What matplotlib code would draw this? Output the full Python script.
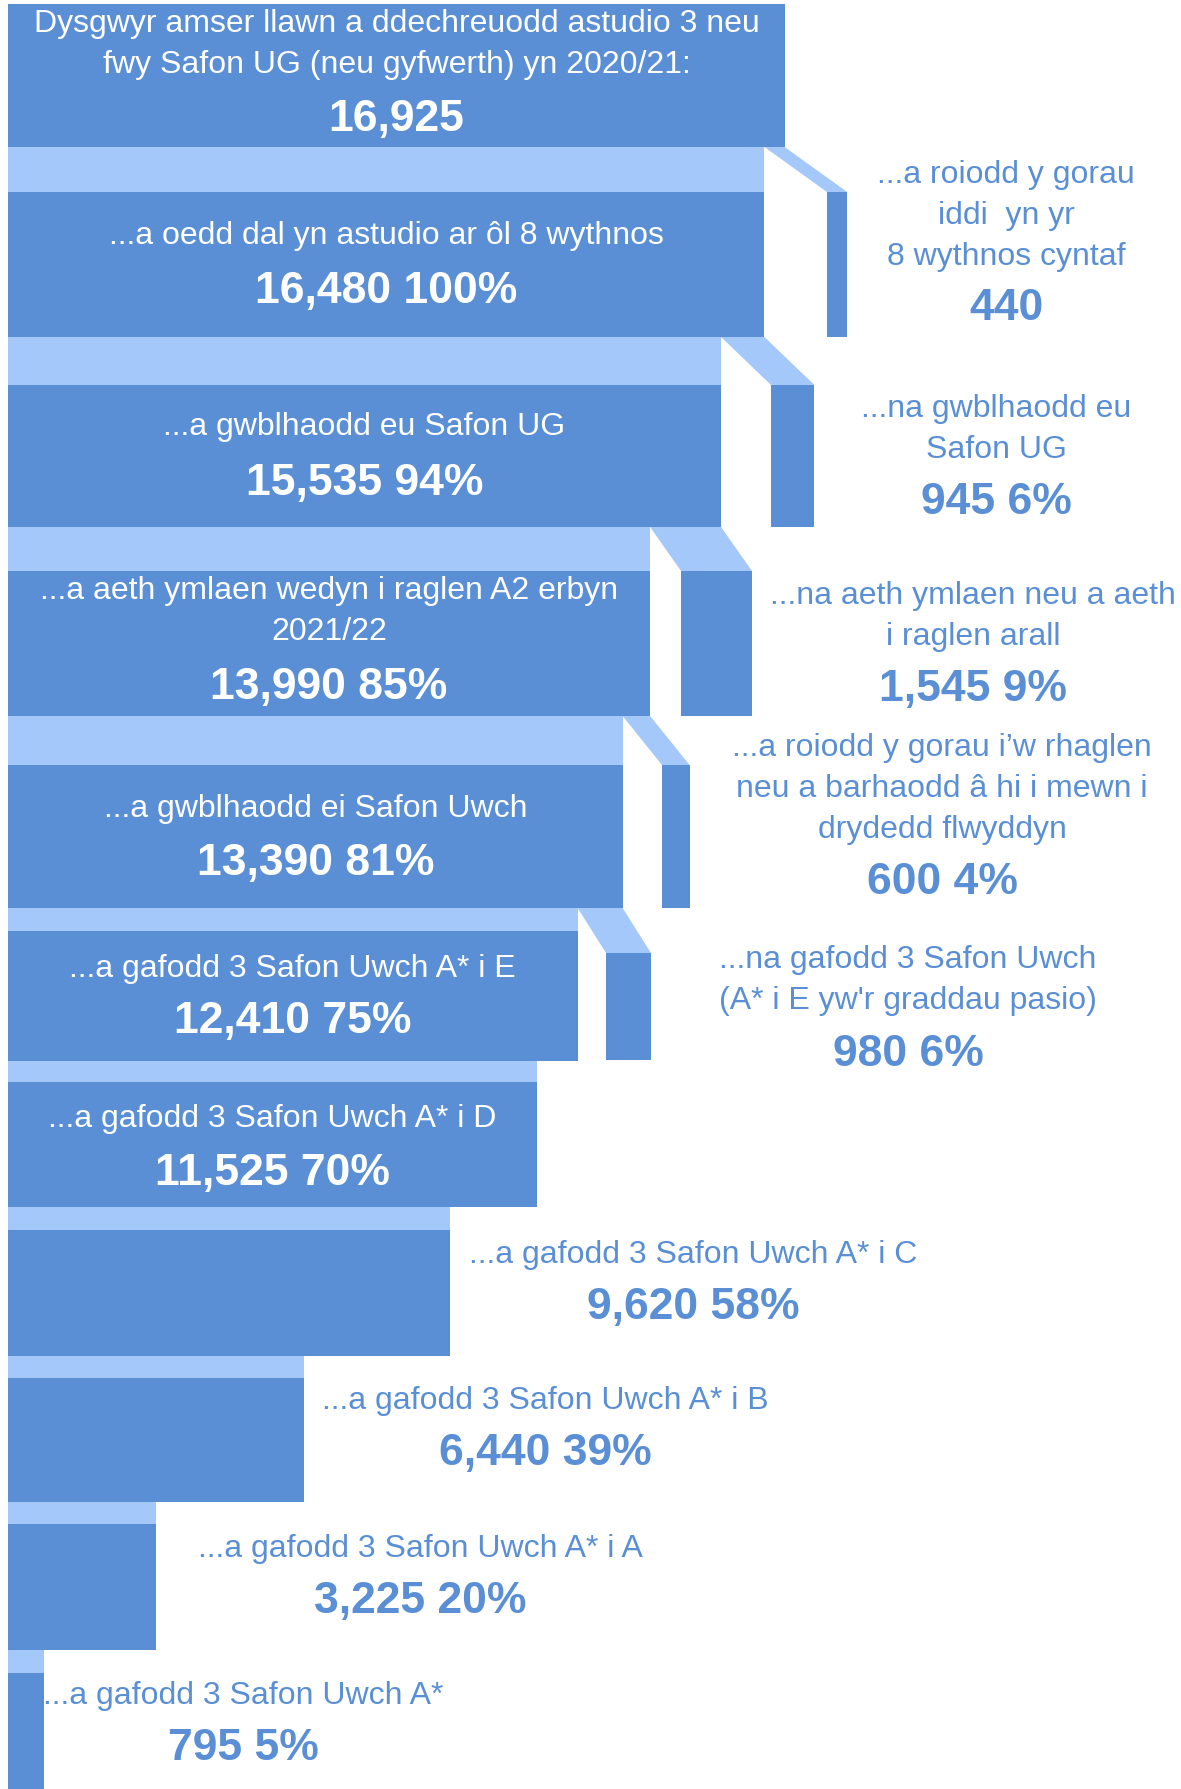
import matplotlib
matplotlib.use("Agg")
import matplotlib.pyplot as plt
from matplotlib.patches import Polygon

# Learners at each stage (main bars, top to bottom)
stage_labels = [
    "Dysgwyr amser llawn a ddechreuodd astudio 3 neu\nfwy Safon UG (neu gyfwerth) yn 2020/21:",
    "...a oedd dal yn astudio ar ôl 8 wythnos",
    "...a gwblhaodd eu Safon UG",
    "...a aeth ymlaen wedyn i raglen A2 erbyn\n2021/22",
    "...a gwblhaodd ei Safon Uwch",
    "...a gafodd 3 Safon Uwch A* i E",
    "...a gafodd 3 Safon Uwch A* i D",
    "...a gafodd 3 Safon Uwch A* i C",
    "...a gafodd 3 Safon Uwch A* i B",
    "...a gafodd 3 Safon Uwch A* i A",
    "...a gafodd 3 Safon Uwch A*",
]
stage_values = [16925, 16480, 15535, 13990, 13390, 12410, 11525, 9620, 6440, 3225, 795]
stage_pcts = [None, 100, 94, 85, 81, 75, 70, 58, 39, 20, 5]

# Learners who dropped out between stages (side bars)
drop_labels = [
    "...a roiodd y gorau\niddi  yn yr\n8 wythnos cyntaf",
    "...na gwblhaodd eu\nSafon UG",
    "...na aeth ymlaen neu a aeth\ni raglen arall",
    "...a roiodd y gorau i’w rhaglen\nneu a barhaodd â hi i mewn i\ndrydedd flwyddyn",
    "...na gafodd 3 Safon Uwch\n(A* i E yw'r graddau pasio)",
]
drop_values = [440, 945, 1545, 600, 980]
drop_pcts = [None, 6, 9, 4, 6]

DARK = "#5A8FD6"
LIGHT = "#A4C8FA"
FONT = "Liberation Sans"

# layout, in pixels of the 1181 x 1789 picture
W, H = 1181, 1789
X0 = 8          # left edge of the bars
PX_PER = 0.0459  # pixels per learner
bar_top = [4, 192, 385, 571, 765, 931, 1082, 1230, 1378, 1524, 1673]
bar_bot = [147, 337, 527, 716, 908, 1061, 1207, 1356, 1502, 1650, 1789]
side_left = [827, 771, 681, 662, 606]
side_top = [192, 385, 571, 765, 953]
side_bot = [337, 527, 716, 908, 1060]
outside_x = {7: 693, 8: 545, 9: 420, 10: 243}
stage_text_y = [21, 233, 424, 588, 806, 966, 1116, 1252, 1398, 1546, 1693]
stage_num_y = [114, 286, 478, 682, 858, 1016, 1168, 1303, 1449, 1597, 1744]
drop_text_x = [1006, 996, 973, 942, 908]
drop_text_y = [172, 406, 593, 745, 957]
drop_num_y = [303, 497, 684, 878, 1049]
LINE = 41
TEXT_DY = 3   # va='center' sits a little high for these glyphs
NUM_DY = 5


def px(x):
    return (x - X0) / PX_PER


def num_text(v, p):
    s = f"{v:,}"
    if p is not None:
        s += f" {p}%"
    return s


def put_lines(x, y, text, color):
    for k, line in enumerate(text.split("\n")):
        ax.text(x, y + TEXT_DY + k * LINE, line, ha="center", va="center",
                fontsize=23, color=color, family=FONT)


def put_number(x, y, text, color):
    ax.text(x, y + NUM_DY, text, ha="center", va="center",
            fontsize=32, fontweight="bold", color=color, family=FONT)


fig = plt.figure(figsize=(W / 100, H / 100), dpi=100)
ax = fig.add_axes([0, 0, 1, 1])
ax.set_xlim(px(0), px(W))
ax.set_ylim(H, 0)
ax.axis("off")

# main bars
ax.barh([(t + b) / 2 for t, b in zip(bar_top, bar_bot)], stage_values,
        height=[b - t for t, b in zip(bar_top, bar_bot)], left=0, color=DARK)

# light bands between consecutive bars
n = len(stage_values) - 1
ax.barh([(bar_bot[i] + bar_top[i + 1]) / 2 for i in range(n)],
        stage_values[1:],
        height=[bar_top[i + 1] - bar_bot[i] for i in range(n)],
        left=0, color=LIGHT)

# drop-out connectors and side bars
for j, d in enumerate(drop_values):
    nxt = stage_values[j + 1]
    sl = px(side_left[j])
    pts = [(nxt, bar_bot[j]), (nxt + d, bar_bot[j]),
           (sl + d, side_top[j]), (sl, side_top[j])]
    ax.add_patch(Polygon(pts, closed=True, facecolor=LIGHT, edgecolor="none"))
    ax.barh((side_top[j] + side_bot[j]) / 2, d, height=side_bot[j] - side_top[j],
            left=sl, color=DARK)

# stage labels
for i, (lab, v, p) in enumerate(zip(stage_labels, stage_values, stage_pcts)):
    if i in outside_x:
        x, c = px(outside_x[i]), DARK
    else:
        x, c = v / 2, "white"
    put_lines(x, stage_text_y[i], lab, c)
    put_number(x, stage_num_y[i], num_text(v, p), c)

# drop labels
for j, (lab, d, p) in enumerate(zip(drop_labels, drop_values, drop_pcts)):
    x = px(drop_text_x[j])
    put_lines(x, drop_text_y[j], lab, DARK)
    put_number(x, drop_num_y[j], num_text(d, p), DARK)

fig.savefig("out.png", dpi=100, facecolor="white")
